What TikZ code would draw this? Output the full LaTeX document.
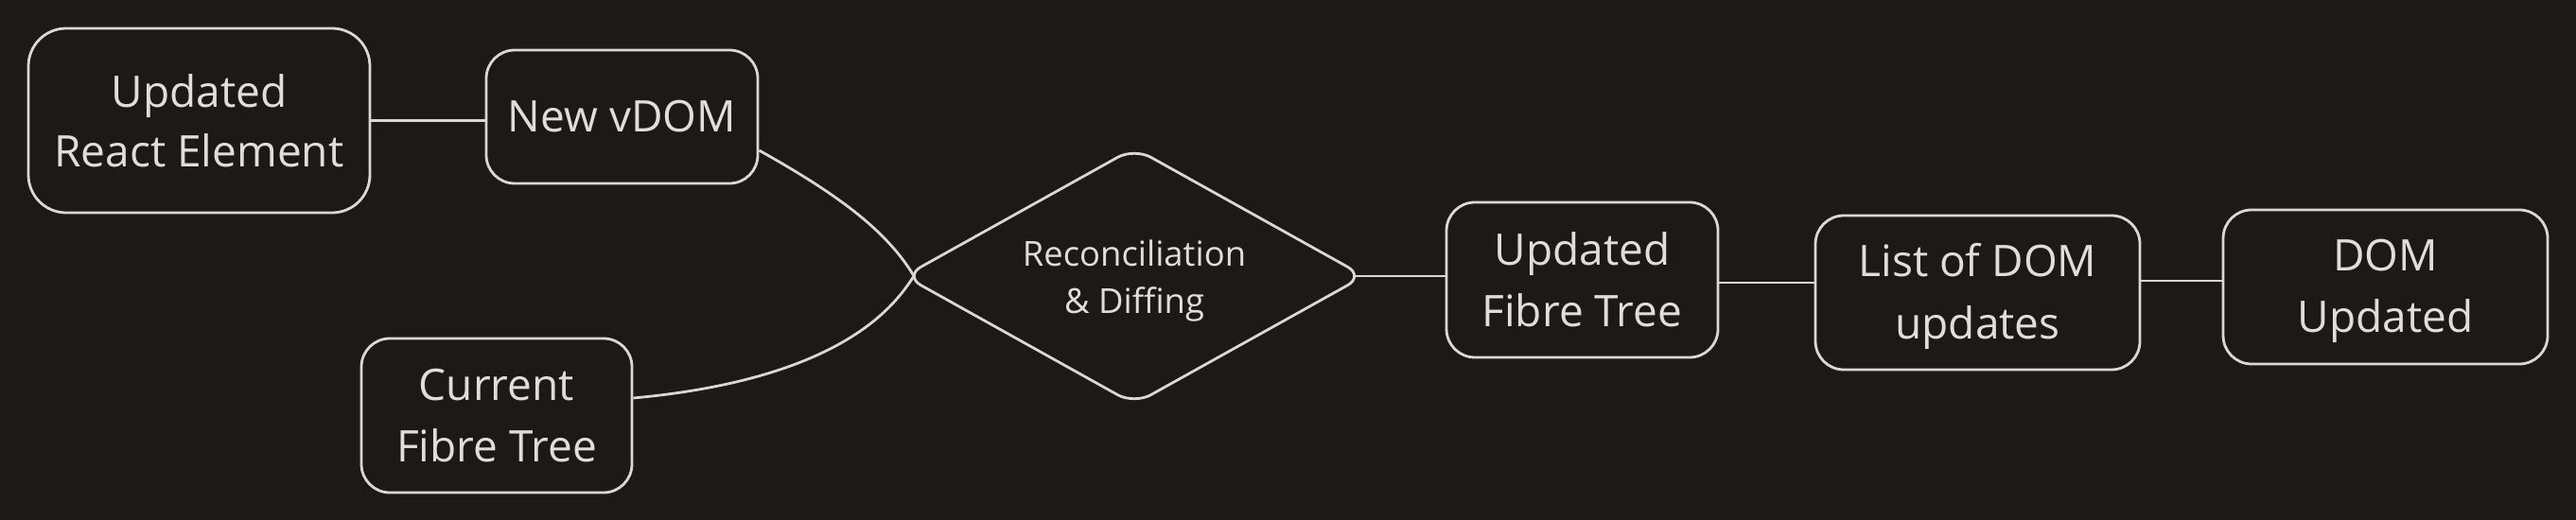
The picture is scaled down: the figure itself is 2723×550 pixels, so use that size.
\documentclass[tikz,border=0pt]{standalone}
\usepackage{fontspec}
\setmainfont{Open Sans}
\usetikzlibrary{shapes.geometric,calc}
\definecolor{bg}{RGB}{28,25,23}
\definecolor{ln}{RGB}{218,216,213}
\definecolor{tx}{RGB}{224,222,219}
\newcommand{\lowered}[2]{\raisebox{#1}[\height][\depth]{\begin{tabular}{@{}c@{}}#2\end{tabular}}}
\begin{document}
\begin{tikzpicture}[x=0.5pt,y=-0.5pt,
  box/.style={draw=ln, line width=1.4pt, rounded corners=15pt, text=tx, align=center,
    font=\fontsize{23}{32.5}\selectfont, inner sep=0pt},
  link/.style={draw=ln, line width=1.4pt},
  dia/.style={diamond, draw=ln, line width=1.4pt, rounded corners=10pt, text=tx, align=center,
    font=\fontsize{18.2}{25}\selectfont, inner sep=0pt, aspect=1.79}]
\fill[bg] (0,0) rectangle (2723,550);
\useasboundingbox (0,0) rectangle (2723,550);

\node[box, rounded corners=20pt, font=\fontsize{23}{31.5}\selectfont, minimum width=180.5pt, minimum height=97.5pt] (ure) at (210.5,127.5) {Updated\\React Element};
\node[box, minimum width=143.5pt, minimum height=70.5pt] (nv) at (657.5,123.5) {New vDOM};
\node[box, minimum width=143pt, minimum height=81.5pt] (cft) at (525,439.5) {Current\\Fibre Tree};
\node[dia, minimum width=243.5pt, minimum height=136pt] (d) at (1199,292) {\lowered{-2.5pt}{Reconciliation\\\& Diffing}};
\node[box, minimum width=143.5pt, minimum height=82pt] (uft) at (1672.5,296) {Updated\\Fibre Tree};
\node[box, minimum width=171.5pt, minimum height=81.5pt] (lst) at (2090.5,309.5) {\lowered{-1.5pt}{List of DOM\\updates}};
\node[box, minimum width=171.5pt, minimum height=81.5pt] (dom) at (2521.5,303.5) {\lowered{-1.5pt}{DOM\\Updated}};

\coordinate (dW) at ([xshift=6pt]d.west);
\coordinate (dE) at ([xshift=-6pt]d.east);
\coordinate (nvo) at ([yshift=-17.75pt]nv.east);
\coordinate (cfo) at ([yshift=9.25pt]cft.east);
\coordinate (uo) at ([yshift=-1.5pt]uft.east);
\coordinate (lo) at ([yshift=6.25pt]lst.east);

\draw[link] (ure.east) -- (ure.east -| nv.west);
\draw[link] (nvo) .. controls +(80,45) and +(-30,-50) .. (dW);
\draw[link] (cfo) .. controls +(229,-21) and +(-17,25) .. (dW);
\draw[link] (dE) -- (dE -| uft.west);
\draw[link] (uo) -- (uo -| lst.west);
\draw[link] (lo) -- (lo -| dom.west);
\end{tikzpicture}
\end{document}
